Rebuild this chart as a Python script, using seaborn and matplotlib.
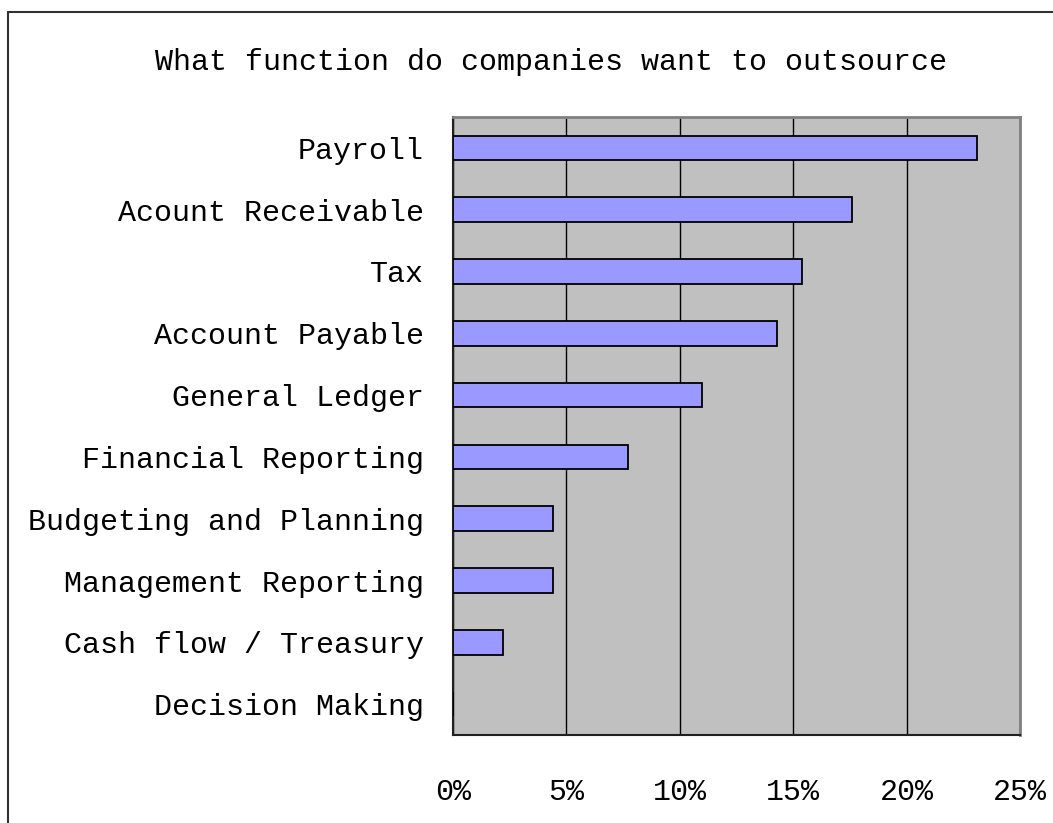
import matplotlib
matplotlib.use("Agg")
import matplotlib.pyplot as plt
from matplotlib.lines import Line2D
from matplotlib.ticker import FixedLocator, PercentFormatter
import seaborn as sns
import pandas as pd

# Share of companies that want to outsource each finance function (%)
functions = [
    "Payroll",
    "Acount Receivable",
    "Tax",
    "Account Payable",
    "General Ledger",
    "Financial Reporting",
    "Budgeting and Planning",
    "Management Reporting",
    "Cash flow / Treasury",
    "Decision Making",
]
shares = [23.1, 17.6, 15.4, 14.3, 11.0, 7.7, 4.4, 4.4, 2.2, 0.0]
x_ticks = [0, 5, 10, 15, 20, 25]
title = "What function do companies want to outsource"

df = pd.DataFrame({"function": functions, "share": shares})

sns.set_style("white")
plt.rcParams["font.family"] = ["Liberation Mono", "DejaVu Sans Mono"]
plt.rcParams["text.color"] = "black"
plt.rcParams["xtick.labelcolor"] = "black"
plt.rcParams["ytick.labelcolor"] = "black"
FS = 21.6

fig = plt.figure(figsize=(10.53, 8.23), dpi=100)
ax = fig.add_axes([453 / 1053, 1 - 735 / 823, (1020 - 453) / 1053, (735 - 117) / 823])
ax.set_facecolor("#C0C0C0")

sns.barplot(data=df, x="share", y="function", orient="h", color="#9999FF",
            saturation=1, width=0.4, edgecolor="black", linewidth=1.3, ax=ax, zorder=3)

ax.set_xlim(0, 25)
ax.set_ylim(len(functions) - 0.5, -0.5)
ax.xaxis.set_major_locator(FixedLocator(x_ticks))
ax.xaxis.set_major_formatter(PercentFormatter(decimals=0))
ax.grid(axis="x", color="black", linewidth=1.0, zorder=1)
ax.grid(axis="y", visible=False)
ax.set_axisbelow(True)
ax.set_xlabel("")
ax.set_ylabel("")

# category labels centred on the bars, short inward ticks on the band boundaries
ax.tick_params(axis="y", which="major", length=0, pad=21, labelsize=FS, labelcolor="black")
ax.yaxis.set_minor_locator(FixedLocator([i - 0.5 for i in range(len(functions) + 1)]))
ax.tick_params(axis="y", which="minor", direction="in", length=9, width=1.2, color="#404040")
ax.tick_params(axis="x", direction="in", length=8, width=1.2, color="#404040", pad=31,
               labelsize=FS, labelcolor="black")

for side in ("left", "bottom"):
    ax.spines[side].set_color("#202020")
    ax.spines[side].set_linewidth(1.5)
for side in ("top", "right"):
    ax.spines[side].set_color("#808080")
    ax.spines[side].set_linewidth(2.0)

fig.text(551 / 1053, 1 - 62 / 823, title, ha="center", va="center", fontsize=FS, color="black")

# outer chart frame (left and top edges)
fig.add_artist(Line2D([8 / 1053, 8 / 1053], [0, 1 - 12 / 823], transform=fig.transFigure,
                      color="#303030", linewidth=1.5))
fig.add_artist(Line2D([8 / 1053, 1], [1 - 12 / 823, 1 - 12 / 823], transform=fig.transFigure,
                      color="#303030", linewidth=1.5))

fig.savefig("out.png", dpi=100)
